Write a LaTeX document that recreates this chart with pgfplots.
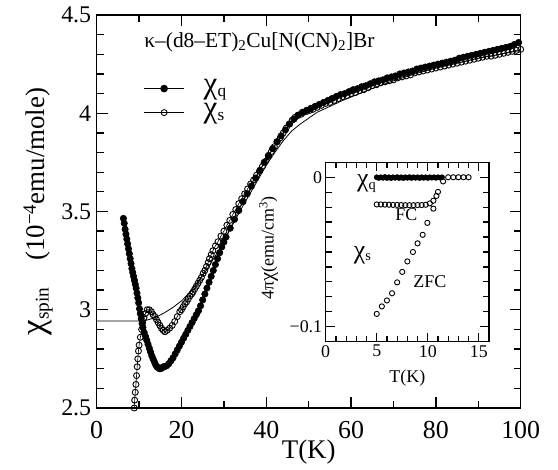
\documentclass[border=0pt]{standalone}
\usepackage{fontspec}
\setmainfont{Liberation Serif}
\usepackage{pgfplots}
\pgfplotsset{compat=1.18}
\newcommand{\fsz}[1]{\fontsize{#1}{#1}\selectfont}
\newcommand{\lsub}[1]{\raisebox{-0.3ex}{\scalebox{0.72}{#1}}}
\newcommand{\CHI}{\scalebox{1.3}{χ}}

\begin{document}
\begin{tikzpicture}
\useasboundingbox (-96.7bp,-62bp) rectangle (461.3bp,408bp);

% main panel
\begin{axis}[
    at={(0,0)}, anchor=south west,
    width=424bp, height=393bp, scale only axis,
    xmin=0, xmax=100, ymin=2.5, ymax=4.5,
    xtick={0,20,...,100}, minor x tick num=1,
    ytick={2.5,3,3.5,4,4.5}, minor y tick num=4,
    tick align=inside,
    major tick length=11bp, minor tick length=7bp,
    axis line style={line width=1.5bp},
    every tick/.append style={line width=1.3bp, black},
    /pgf/number format/assume math mode=true,
    yticklabel style={font=\fsz{24}, xshift=-2bp},
    xticklabel style={font=\fsz{26}, yshift=-10bp},
    ylabel={\CHI\lsub{spin}\quad(10\textsuperscript{−4}emu/mole)},
    every axis y label/.style={at={(axis description cs:-0.1384,0.5)}, anchor=center, rotate=90, font=\fsz{27}},
    legend style={at={(axis cs:11.0,4.185)}, anchor=north west, draw=none, fill=none,
        font=\fsz{24}, inner sep=0pt, row sep=1bp,
        nodes={inner sep=1bp, text height=15bp, text depth=6bp},
        /tikz/every odd column/.append style={column sep=18bp}},
    legend cell align=left,
    legend image code/.code={\draw[mark repeat=2,mark phase=2,#1,line width=1.2bp]
        plot coordinates {(0bp,0bp) (20bp,0bp) (40bp,0bp)};},
    clip mode=individual,
]

% chi_q
\addplot[black, line width=0.6bp, mark=*, mark size=3.2bp, mark options={solid, fill=black}] coordinates {
(6.3,3.465)(6.5,3.44)(6.7,3.41)(6.9,3.385)(7.1,3.36)(7.3,3.335)(7.5,3.31)(7.7,3.285)
(7.9,3.26)(8.1,3.235)(8.3,3.21)(8.5,3.19)(8.7,3.17)(8.9,3.15)(9.1,3.13)(9.3,3.11)
(9.5,3.085)(9.7,3.06)(9.9,3.035)(10.1,3.005)(10.3,2.98)(10.5,2.955)(10.7,2.93)(10.9,2.91)
(11.2,2.885)(11.5,2.865)(11.8,2.845)(12.1,2.825)(12.4,2.805)(12.7,2.785)(13.0,2.765)
(13.3,2.75)(13.6,2.735)(13.9,2.72)(14.2,2.71)(14.5,2.705)(14.8,2.70)(15.1,2.70)
(15.4,2.705)(15.7,2.71)(16.0,2.71)(16.5,2.715)(17.0,2.725)(17.5,2.74)(18.0,2.755)
(18.5,2.775)(19.0,2.795)(19.5,2.815)(20.0,2.835)(20.5,2.855)(21.0,2.875)(21.5,2.895)
(22.0,2.915)(22.5,2.935)(23.0,2.955)(23.5,2.975)(24.0,2.995)(24.5,3.02)(25.0,3.05)
(25.5,3.08)(26.0,3.11)(26.5,3.14)(27.0,3.17)(27.5,3.20)(28.0,3.23)(28.5,3.26)
(29.0,3.29)(29.5,3.32)(30.0,3.345)(30.5,3.37)(31.5,3.415)(32.5,3.46)(33.5,3.505)
(34.5,3.55)(35.5,3.59)(36.5,3.63)(37.5,3.67)(38.5,3.71)(39.5,3.75)(40.5,3.785)
(41.5,3.82)(42.5,3.855)(43.5,3.885)(44.5,3.915)(45.5,3.945)(46.5,3.97)(47.5,3.99)
(48.5,4.005)(49.5,4.015)(50.5,4.025)(51.5,4.035)(52.5,4.045)(53.5,4.055)(54.5,4.065)
(55.5,4.075)(56.5,4.085)(57.5,4.095)(58.5,4.10)(59.5,4.11)(60.5,4.12)(61.5,4.125)
(62.5,4.135)(63.5,4.14)(64.5,4.15)(65.5,4.16)(66.5,4.165)(67.5,4.17)(68.5,4.18)
(69.5,4.185)(70.5,4.19)(71.5,4.20)(72.5,4.205)(73.5,4.21)(74.5,4.215)(75.5,4.225)
(76.5,4.23)(77.5,4.235)(78.5,4.24)(79.5,4.245)(80.5,4.25)(81.5,4.255)(82.5,4.26)
(83.5,4.265)(84.5,4.27)(85.5,4.28)(86.5,4.285)(87.5,4.29)(88.5,4.295)(89.5,4.30)
(90.5,4.305)(91.5,4.31)(92.5,4.315)(93.5,4.32)(94.5,4.325)(95.5,4.33)(96.5,4.335)
(97.5,4.34)(98.5,4.35)(99.5,4.36)
};
\addlegendentry{\CHI\lsub{q}}

% chi_s
\addplot[black, line width=0.6bp, mark=o, mark size=3.0bp, mark options={solid, fill=white, line width=0.9bp}] coordinates {
(8.8,2.42)(8.85,2.50)(8.95,2.54)(9.1,2.58)(9.25,2.62)(9.4,2.665)(9.55,2.71)(9.7,2.75)
(9.85,2.79)(10.0,2.82)(10.3,2.86)(10.6,2.90)(10.85,2.935)(11.15,2.96)(11.5,2.98)
(11.9,3.0)(12.4,3.0)(12.9,2.99)(13.3,2.975)(13.7,2.965)(14.1,2.95)(14.5,2.935)
(14.9,2.92)(15.3,2.905)(15.7,2.895)(16.1,2.888)(16.6,2.895)(17.2,2.906)(17.8,2.92)
(18.4,2.94)(19.0,2.965)(19.6,2.99)(20.0,3.0)(20.4,3.015)(20.8,3.03)(21.2,3.04)
(21.6,3.055)(22.0,3.07)(22.4,3.08)(22.7,3.09)(23.1,3.105)(23.5,3.12)(23.9,3.135)
(24.3,3.15)(24.7,3.165)(25.1,3.185)(25.5,3.20)(25.9,3.22)(26.3,3.24)(26.6,3.26)
(27.0,3.28)(27.4,3.30)(28.0,3.325)(28.6,3.346)(29.3,3.375)(30.0,3.40)(30.7,3.43)
(31.4,3.455)(32.1,3.485)(32.8,3.51)(33.5,3.54)(34.2,3.565)(34.9,3.59)(35.6,3.615)
(36.3,3.64)(37.0,3.66)(37.7,3.685)(38.4,3.705)(39.1,3.73)(39.8,3.755)(40.5,3.78)
(41.2,3.805)(41.9,3.83)(42.6,3.855)(43.3,3.875)(44.0,3.90)(44.7,3.925)(45.4,3.945)
(46.1,3.965)(46.8,3.98)(47.5,3.99)(48.2,3.995)(48.9,4.005)(49.6,4.01)(50.3,4.015)
(51,4.02)(52,4.03)(53,4.04)(54,4.05)(55,4.055)(56,4.065)(57,4.075)(58,4.085)
(59,4.09)(60,4.10)(61,4.105)(62,4.115)(63,4.12)(64,4.13)(65,4.14)(66,4.145)
(67,4.155)(68,4.16)(69,4.165)(70,4.17)(71,4.18)(72,4.185)(73,4.19)(74,4.195)
(75,4.205)(76,4.21)(77,4.215)(78,4.22)(79,4.225)(80,4.23)(81,4.235)(82,4.24)
(83,4.245)(84,4.25)(85,4.255)(86,4.26)(87,4.265)(88,4.27)(89,4.275)(90,4.28)
(91,4.285)(92,4.29)(93,4.29)(94,4.295)(95,4.30)(96,4.305)(97,4.31)(98,4.315)
(99,4.32)(100,4.325)
};
\addlegendentry{\CHI\lsub{s}}

% fit curve
\addplot[black, line width=0.8bp, forget plot] coordinates {
(0,2.943)(10.8,2.943)(12,2.948)(14,2.962)(16,2.985)(18,3.012)(20,3.045)(22,3.09)
(24,3.145)(26,3.205)(28,3.275)(30,3.35)(32,3.43)(34,3.51)(36,3.585)(38,3.66)
(40,3.735)(42,3.80)(44,3.86)(46,3.91)(48,3.945)(50,3.975)(52,4.005)(55,4.035)
(58,4.065)(62,4.10)(66,4.135)(70,4.165)(75,4.20)(80,4.23)(85,4.255)(90,4.28)
(95,4.30)(100,4.32)
};

\node[anchor=west, inner sep=0pt, font=\fsz{21.5}] at (axis cs:11.2,4.363)
    {κ–(d8–ET)\textsubscript{2}Cu[N(CN)\textsubscript{2}]Br};
\node[font=\fsz{27}, inner sep=0pt, yshift=-44bp] at (rel axis cs:0.5,0) {T(K)};
\end{axis}

% inset
\begin{axis}[
    at={(229bp,66.3bp)}, anchor=south west,
    width=163.3bp, height=179.4bp, scale only axis,
    xmin=0, xmax=16, ymin=-0.11, ymax=0.01,
    axis background/.style={fill=white},
    xtick={0,5,10,15}, minor xtick={1,2,3,4,6,7,8,9,11,12,13,14},
    ytick={-0.1,0}, yticklabels={−0.1,0},
    minor ytick={-0.09,-0.08,-0.07,-0.06,-0.05,-0.04,-0.03,-0.02,-0.01},
    tick align=inside,
    major tick length=9bp, minor tick length=6bp,
    axis line style={line width=1.5bp},
    every tick/.append style={line width=1.2bp, black},
    /pgf/number format/assume math mode=true,
    ticklabel style={font=\fsz{18}},
    xlabel={T(K)},
    every axis x label/.style={at={(axis description cs:0.5,-0.204)}, anchor=center, font=\fsz{18}},
    ylabel={4π\scalebox{1.15}{χ}(emu/cm\textsuperscript{3})},
    every axis y label/.style={at={(axis description cs:-0.35,0.522)}, anchor=center, rotate=90, font=\fsz{18}},
]
% chi_q (inset)
\addplot[only marks, mark=*, mark size=2.6bp, mark options={fill=black}] coordinates {
(5.0,0)(5.2,-0.0005)(5.4,0)(5.6,-0.0004)(5.8,0.0002)(6.0,-0.0005)(6.2,0)(6.4,-0.0006)
(6.6,0)(6.8,-0.0004)(7.0,0.0001)(7.2,-0.0005)(7.4,0)(7.6,-0.0006)(7.8,0)(8.0,-0.0004)
(8.2,0.0001)(8.4,-0.0005)(8.6,0)(8.8,-0.0004)(9.0,0)(9.2,-0.0005)(9.4,0)(9.6,-0.0004)
(9.8,0)(10.0,-0.0005)(10.2,0)(10.4,-0.0003)(10.6,0)(10.8,-0.0004)(11.0,0)(11.2,-0.0003)
(11.4,0)
};
% chi_s (inset): normal state, FC and ZFC
\addplot[only marks, mark=o, mark size=2.6bp, mark options={fill=white, line width=0.9bp}] coordinates {
(11.5,-0.0028)(12.0,0)(12.5,0)(13.0,0)(13.5,0)(14.0,0)
(5.0,-0.0182)(5.4,-0.0182)(5.8,-0.0183)(6.2,-0.0184)(6.6,-0.0185)(7.0,-0.0185)
(7.4,-0.0186)(7.8,-0.0187)(8.2,-0.0187)(8.6,-0.0187)(9.0,-0.0186)(9.4,-0.0186)
(9.8,-0.0184)(10.2,-0.0175)(10.55,-0.0157)(10.85,-0.0125)(11.0,-0.0098)
(5.0,-0.0914)(5.5,-0.0864)(6.0,-0.0824)(6.5,-0.0776)(7.0,-0.0703)(7.5,-0.0633)
(8.0,-0.0563)(8.55,-0.0500)(9.0,-0.0442)(9.5,-0.0385)(9.96,-0.0305)(10.55,-0.0210)
};
\node[font=\fsz{20}] at (axis cs:4.0,-0.0044) {\CHI\lsub{q}};
\node[font=\fsz{18}] at (axis cs:7.9,-0.025) {FC};
\node[font=\fsz{20}] at (axis cs:3.6,-0.052) {\CHI\lsub{s}};
\node[font=\fsz{18}] at (axis cs:10.2,-0.070) {ZFC};
\end{axis}
\end{tikzpicture}
\end{document}
